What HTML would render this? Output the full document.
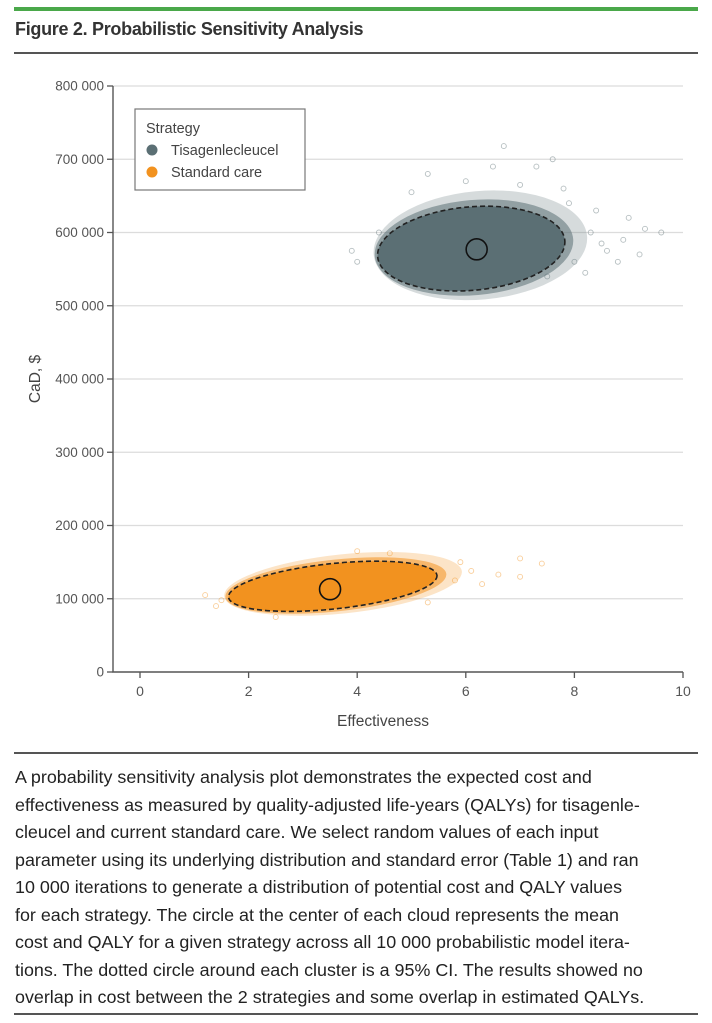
<!DOCTYPE html>
<html><head><meta charset="utf-8"><style>
body{margin:0;background:#fff;width:712px;height:1023px;overflow:hidden;font-family:"Liberation Sans Narrow","Liberation Sans",sans-serif;}
#top{position:absolute;left:14px;top:7px;width:684px;height:4px;background:#4aa84a;}
#title{position:absolute;left:15px;top:19px;font-family:"Liberation Sans",sans-serif;font-weight:bold;font-size:18px;color:#333;letter-spacing:-0.3px;}
.rule{position:absolute;left:14px;width:684px;height:1.5px;background:#555;}
#cap{position:absolute;left:15px;top:764px;font-family:"Liberation Sans",sans-serif;font-size:17.9px;line-height:27.5px;color:#222;white-space:nowrap;}
svg{position:absolute;left:0;top:0;}
</style></head><body>
<div id="top"></div>
<div id="title">Figure 2. Probabilistic Sensitivity Analysis</div>
<div class="rule" style="top:52px"></div>
<svg id="chart" width="712" height="760"></svg>
<div class="rule" style="top:752px"></div>
<div id="cap">A probability sensitivity analysis plot demonstrates the expected cost and<br>effectiveness as measured by quality-adjusted life-years (QALYs) for tisagenle-<br>cleucel and current standard care. We select random values of each input<br>parameter using its underlying distribution and standard error (Table 1) and ran<br>10 000 iterations to generate a distribution of potential cost and QALY values<br>for each strategy. The circle at the center of each cloud represents the mean<br>cost and QALY for a given strategy across all 10 000 probabilistic model itera-<br>tions. The dotted circle around each cluster is a 95% CI. The results showed no<br>overlap in cost between the 2 strategies and some overlap in estimated QALYs.</div>
<div class="rule" style="top:1013px"></div>
<script>
const xTicks=[0,2,4,6,8,10];
const yTicks=[0,100000,200000,300000,400000,500000,600000,700000,800000];
const yTickLabels=["0","100 000","200 000","300 000","400 000","500 000","600 000","700 000","800 000"];
const strategies=["Tisagenlecleucel","Standard care"];
const colors=["#5b6f74","#f2921f"];
const meanEff=[6.2,3.5];
const meanCost=[577000,113000];
const ciCenterEff=[6.1,3.55];
const ciCenterCost=[578000,117000];
const ciHalfEff=[1.73,1.93];
const ciHalfCost=[57000,31000];
const ciAngle=[-5,-6];
const tisaEff=[8.3,8.9,9.3,9.6,9.0,8.6,8.0,9.2,7.6,7.3,6.7,7.8,4.0,3.9,8.4,6.5,5.3,6.0,7.0,4.4,8.2,8.8,7.9,8.5,5.0,7.5];
const tisaCost=[600000,590000,605000,600000,620000,575000,560000,570000,700000,690000,718000,660000,560000,575000,630000,690000,680000,670000,665000,600000,545000,560000,640000,585000,655000,540000];
const stdEff=[7.0,7.4,6.6,6.1,1.2,1.4,7.0,5.9,2.5,4.0,5.8,6.3,1.5,4.6,5.3];
const stdCost=[155000,148000,133000,138000,105000,90000,130000,150000,75000,165000,125000,120000,98000,162000,95000];

const NS='http://www.w3.org/2000/svg';
const svg=document.getElementById('chart');
const X0=140,X1=683,Y0=672,Y1=86;
const sx=v=>X0+(v/10)*(X1-X0);
const sy=v=>Y0-(v/800000)*(Y0-Y1);
function mk(tag,attrs){const e=document.createElementNS(NS,tag);for(const k in attrs)e.setAttribute(k,attrs[k]);svg.appendChild(e);return e;}

yTicks.forEach((t,i)=>{
  if(t>0){const g=mk('line',{x1:113,x2:683,y1:sy(t),y2:sy(t),stroke:'#dcdcdc','stroke-width':1.3});
  
  }
  const tk=mk('line',{x1:107,x2:113,y1:sy(t),y2:sy(t),stroke:'#555','stroke-width':1.3});
  
  
  const lb=mk('text',{x:104,y:sy(t)+4.5,'text-anchor':'end','font-size':13.5,fill:'#555'});
  lb.textContent=yTickLabels[i];
  
  
});
xTicks.forEach(t=>{
  const tk=mk('line',{x1:sx(t),x2:sx(t),y1:672,y2:678,stroke:'#555','stroke-width':1.3});
  
  
  const lb=mk('text',{x:sx(t),y:696,'text-anchor':'middle','font-size':14,fill:'#555'});
  lb.textContent=t;
  
  
});
const ax=mk('path',{d:'M113 86 V672 H683',fill:'none',stroke:'#555','stroke-width':1.4});


const xt=mk('text',{x:383,y:726,'text-anchor':'middle','font-size':15.5,fill:'#444'});
xt.textContent='Effectiveness';


const yt=mk('text',{x:0,y:0,'text-anchor':'middle','font-size':15.5,fill:'#444',transform:'translate(40 379) rotate(-90)'});
yt.textContent='CaD, $';



const pts=[[tisaEff,tisaCost],[stdEff,stdCost]];
strategies.forEach((s,i)=>{
  const cx=sx(ciCenterEff[i]),cy=sy(ciCenterCost[i]);
  const rx=sx(ciHalfEff[i])-sx(0), ry=sy(0)-sy(ciHalfCost[i]);
  const tr=`rotate(${ciAngle[i]} ${cx} ${cy})`;
  pts[i][0].forEach((e,j)=>{
    const p=mk('circle',{cx:sx(e),cy:sy(pts[i][1][j]),r:2.5,fill:'none',stroke:colors[i],'stroke-opacity':0.45,'stroke-width':0.9});
    
    
  });
  const h=mk('ellipse',{cx:cx+rx*0.1,cy:cy-ry*0.06,rx:rx*1.14,ry:ry*1.3,fill:colors[i],'fill-opacity':0.25,transform:tr});
  
  
  const h2=mk('ellipse',{cx:cx+rx*0.03,cy:cy-ry*0.02,rx:rx*1.06,ry:ry*1.14,fill:colors[i],'fill-opacity':0.55,transform:tr});
  
  
  const c=mk('ellipse',{cx,cy,rx,ry,fill:colors[i],transform:tr});
  
  
  const ci=mk('ellipse',{cx,cy,rx,ry,fill:'none',stroke:'#222','stroke-width':1.6,'stroke-dasharray':'5 3',transform:tr});
  
  
  const m=mk('circle',{cx:sx(meanEff[i]),cy:sy(meanCost[i]),r:10.5,fill:'none',stroke:'#111','stroke-width':1.6});
  
  
});

const lg=mk('rect',{x:135,y:109,width:170,height:81,fill:'#fff',stroke:'#777','stroke-width':1.2});


const lt=mk('text',{x:146,y:133,'font-size':14.5,fill:'#444'});
lt.textContent='Strategy';


strategies.forEach((s,i)=>{
  const d=mk('circle',{cx:152,cy:150+i*22,r:5.5,fill:colors[i]});
  
  
  const t=mk('text',{x:171,y:155+i*22,'font-size':14.5,fill:'#444'});
  t.textContent=s;
  
  
});
</script>
</body></html>
